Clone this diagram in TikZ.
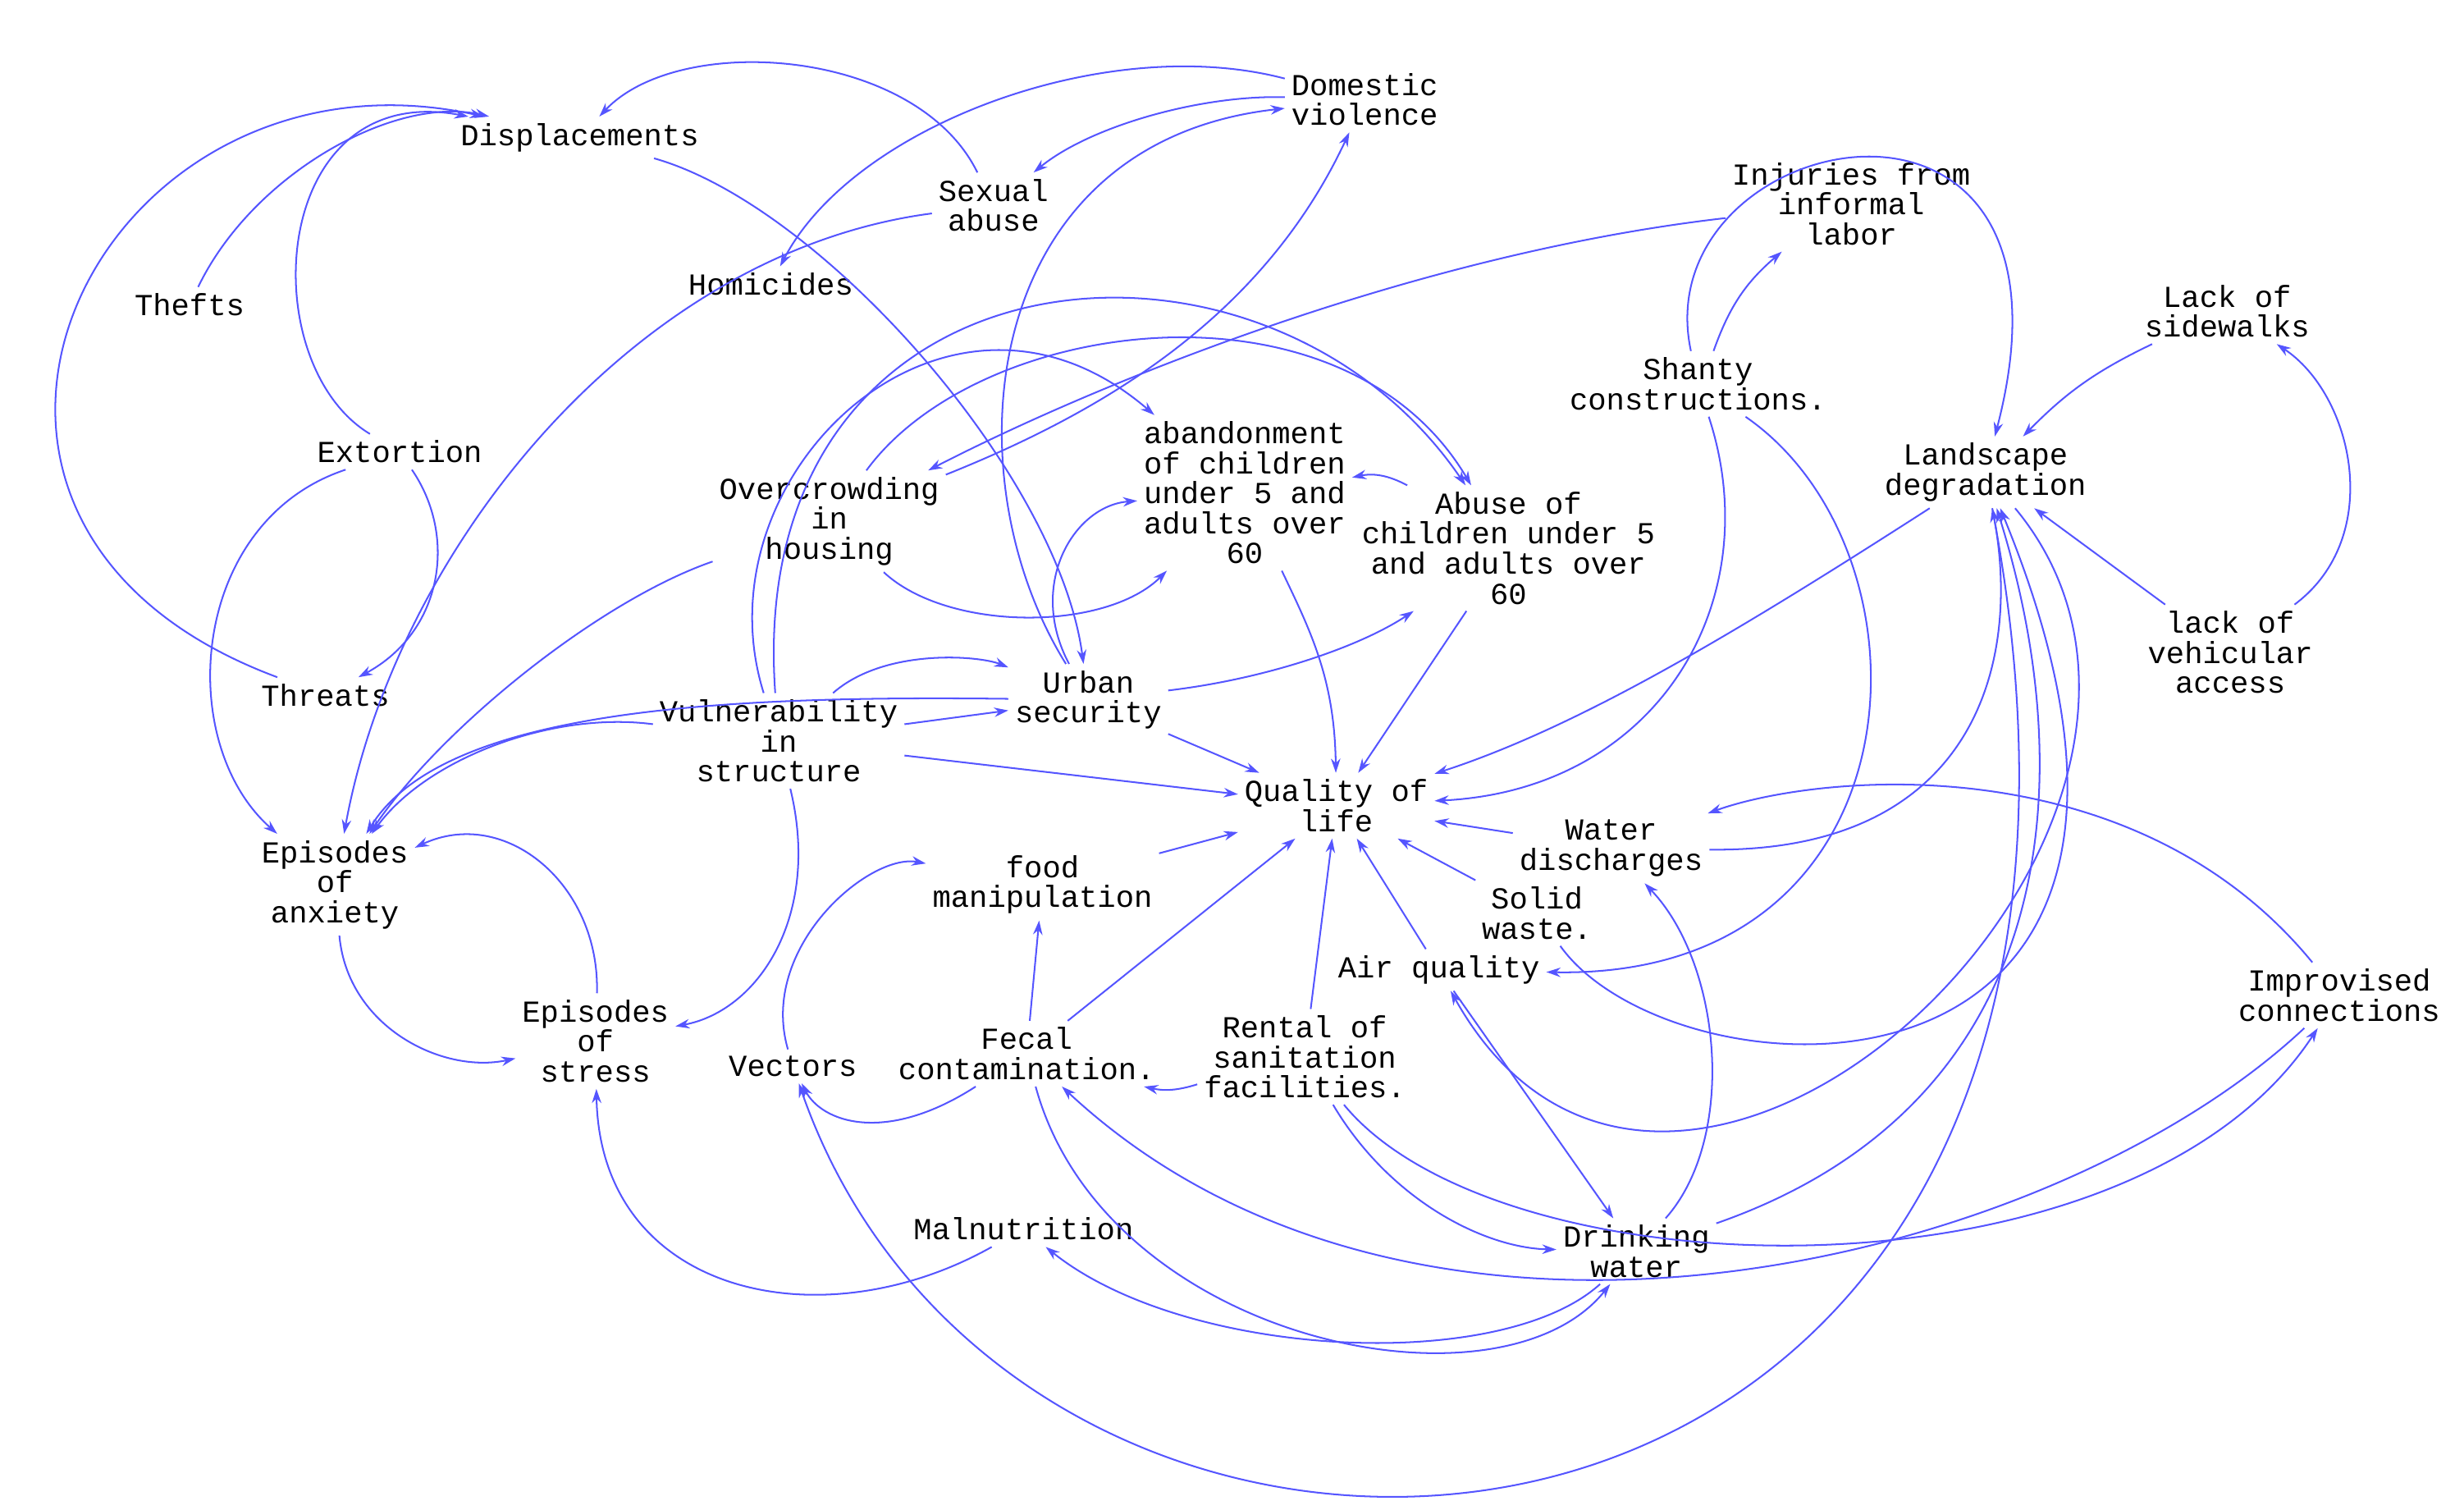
\documentclass[tikz,border=0pt]{standalone}
\usepackage{fontspec}
\setmainfont{Liberation Mono}
\usetikzlibrary{arrows.meta}
\definecolor{ln}{RGB}{85,85,255}
\begin{document}
\begin{tikzpicture}[x=0.1mm,y=0.1mm,
  n/.style={align=center,inner sep=1pt,font=\fontsize{5.5}{5.4}\selectfont},
  e/.style={draw=ln,line width=0.3pt,-{Stealth[length=0.9mm,width=0.6mm]}}]
\useasboundingbox (0,0) rectangle (1560,-950);
\node[n] (disp) at (367,-87) {Displacements};
\node[n] (dv) at (864,-63) {Domestic\\violence};
\node[n] (sex) at (629,-130) {Sexual\\abuse};
\node[n] (hom) at (488,-180) {Homicides};
\node[n] (thefts) at (120,-193) {Thefts};
\node[n] (inj) at (1172,-129) {Injuries from\\informal\\labor};
\node[n] (side) at (1410,-197) {Lack of\\sidewalks};
\node[n] (shanty) at (1075,-243) {Shanty\\constructions.};
\node[n] (ext) at (253,-286) {Extortion};
\node[n] (aband) at (788,-312) {abandonment\\of children\\under 5 and\\adults over\\60};
\node[n] (land) at (1257,-299) {Landscape\\degradation};
\node[n] (over) at (525,-330) {Overcrowding\\in\\housing};
\node[n] (abuse) at (955,-347) {Abuse of\\children under 5\\and adults over\\60};
\node[n] (veh) at (1412,-413) {lack of\\vehicular\\access};
\node[n] (threats) at (206,-440) {Threats};
\node[n] (urban) at (689,-443) {Urban\\security};
\node[n] (vuln) at (493,-469) {Vulnerability\\in\\structure};
\node[n] (qol) at (846,-510) {Quality of\\life};
\node[n] (water) at (1020,-537) {Water\\discharges};
\node[n] (anx) at (212,-560) {Episodes\\of\\anxiety};
\node[n] (food) at (660,-560) {food\\manipulation};
\node[n] (solid) at (973,-578) {Solid\\waste.};
\node[n] (air) at (911,-614) {Air quality};
\node[n] (impro) at (1481,-630) {Improvised\\connections};
\node[n] (stress) at (377,-659) {Episodes\\of\\stress};
\node[n] (fecal) at (650,-667) {Fecal\\contamination.};
\node[n] (rental) at (826,-669) {Rental of\\sanitation\\facilities.};
\node[n] (vec) at (502,-675) {Vectors};
\node[n] (mal) at (648,-778) {Malnutrition};
\node[n] (drink) at (1036,-792) {Drinking\\water};

\draw[e] (thefts) .. controls (160,-110) and (250,-60) .. (disp);
\draw[e] (ext) .. controls (160,-230) and (170,-50) .. (disp);
\draw[e] (threats) .. controls (-90,-330) and (60,-20) .. (disp);
\draw[e] (sex) .. controls (580,-30) and (430,-20) .. (disp);
\draw[e] (dv) .. controls (760,-60) and (690,-80) .. (sex);
\draw[e] (dv) .. controls (700,-20) and (540,-80) .. (hom);
\draw[e] (disp) .. controls (520,-130) and (670,-300) .. (urban);
\draw[e] (sex) .. controls (400,-160) and (250,-350) .. (anx);
\draw[e] (ext) .. controls (290,-340) and (280,-400) .. (threats);
\draw[e] (ext) .. controls (120,-330) and (110,-470) .. (anx);
\draw[e] (over) .. controls (380,-380) and (280,-460) .. (anx);
\draw[e] (vuln) .. controls (350,-450) and (270,-480) .. (anx);
\draw[e] (urban) .. controls (450,-440) and (280,-450) .. (anx);
\draw[e] (stress) .. controls (380,-560) and (320,-510) .. (anx);
\draw[e] (anx) .. controls (220,-650) and (280,-680) .. (stress);
\draw[e] (mal) .. controls (520,-850) and (380,-820) .. (stress);
\draw[e] (vuln) .. controls (520,-580) and (480,-640) .. (stress);
\draw[e] (vuln) .. controls (440,-300) and (600,-150) .. (aband);
\draw[e] (vuln) .. controls (470,-150) and (800,-120) .. (abuse);
\draw[e] (over) .. controls (620,-200) and (850,-170) .. (abuse);
\draw[e] (over) .. controls (600,-400) and (700,-400) .. (aband);
\draw[e] (urban) .. controls (650,-370) and (680,-320) .. (aband);
\draw[e] (urban) .. controls (600,-300) and (620,-90) .. (dv);
\draw[e] (over) .. controls (700,-260) and (800,-200) .. (dv);
\draw[e] (inj) .. controls (900,-160) and (700,-240) .. (over);
\draw[e] (abuse) to[bend right=20] (aband);
\draw[e] (urban) .. controls (800,-430) and (860,-410) .. (abuse);
\draw[e] (vuln) .. controls (560,-410) and (620,-415) .. (urban);
\draw[e] (vuln) -- (urban);
\draw[e] (urban) -- (qol);
\draw[e] (vuln) -- (qol);
\draw[e] (aband) .. controls (830,-400) and (845,-430) .. (qol);
\draw[e] (abuse) -- (qol);
\draw[e] (food) -- (qol);
\draw[e] (fecal) -- (qol);
\draw[e] (rental) -- (qol);
\draw[e] (air) -- (qol);
\draw[e] (solid) -- (qol);
\draw[e] (water) -- (qol);
\draw[e] (land) .. controls (1100,-400) and (1000,-460) .. (qol);
\draw[e] (shanty) .. controls (1120,-380) and (1050,-500) .. (qol);
\draw[e] (shanty) to[bend left=15] (inj);
\draw[e] (shanty) .. controls (1040,-80) and (1330,-20) .. (land);
\draw[e] (side) to[bend right=10] (land);
\draw[e] (veh) .. controls (1510,-340) and (1490,-250) .. (side);
\draw[e] (veh) -- (land);
\draw[e] (shanty) .. controls (1230,-350) and (1220,-620) .. (air);
\draw[e] (water) .. controls (1250,-540) and (1280,-420) .. (land);
\draw[e] (solid) .. controls (1060,-700) and (1430,-720) .. (land);
\draw[e] (land) .. controls (1440,-520) and (1060,-880) .. (air);
\draw[e] (drink) .. controls (1300,-700) and (1320,-500) .. (land);
\draw[e] (impro) .. controls (1300,-800) and (900,-900) .. (fecal);
\draw[e] (rental) .. controls (950,-820) and (1350,-830) .. (impro);
\draw[e] (impro) .. controls (1350,-470) and (1150,-490) .. (water);
\draw[e] (drink) .. controls (1100,-720) and (1090,-610) .. (water);
\draw[e] (air) -- (drink);
\draw[e] (rental) .. controls (880,-760) and (940,-790) .. (drink);
\draw[e] (rental) to[bend left=15] (fecal);
\draw[e] (fecal) .. controls (560,-725) and (520,-710) .. (vec);
\draw[e] (vec) .. controls (480,-600) and (550,-540) .. (food);
\draw[e] (fecal) -- (food);
\draw[e] (fecal) .. controls (700,-850) and (950,-900) .. (drink);
\draw[e] (drink) .. controls (950,-870) and (750,-860) .. (mal);
\draw[e] (land) .. controls (1400,-1050) and (650,-1100) .. (vec);
\end{tikzpicture}
\end{document}
